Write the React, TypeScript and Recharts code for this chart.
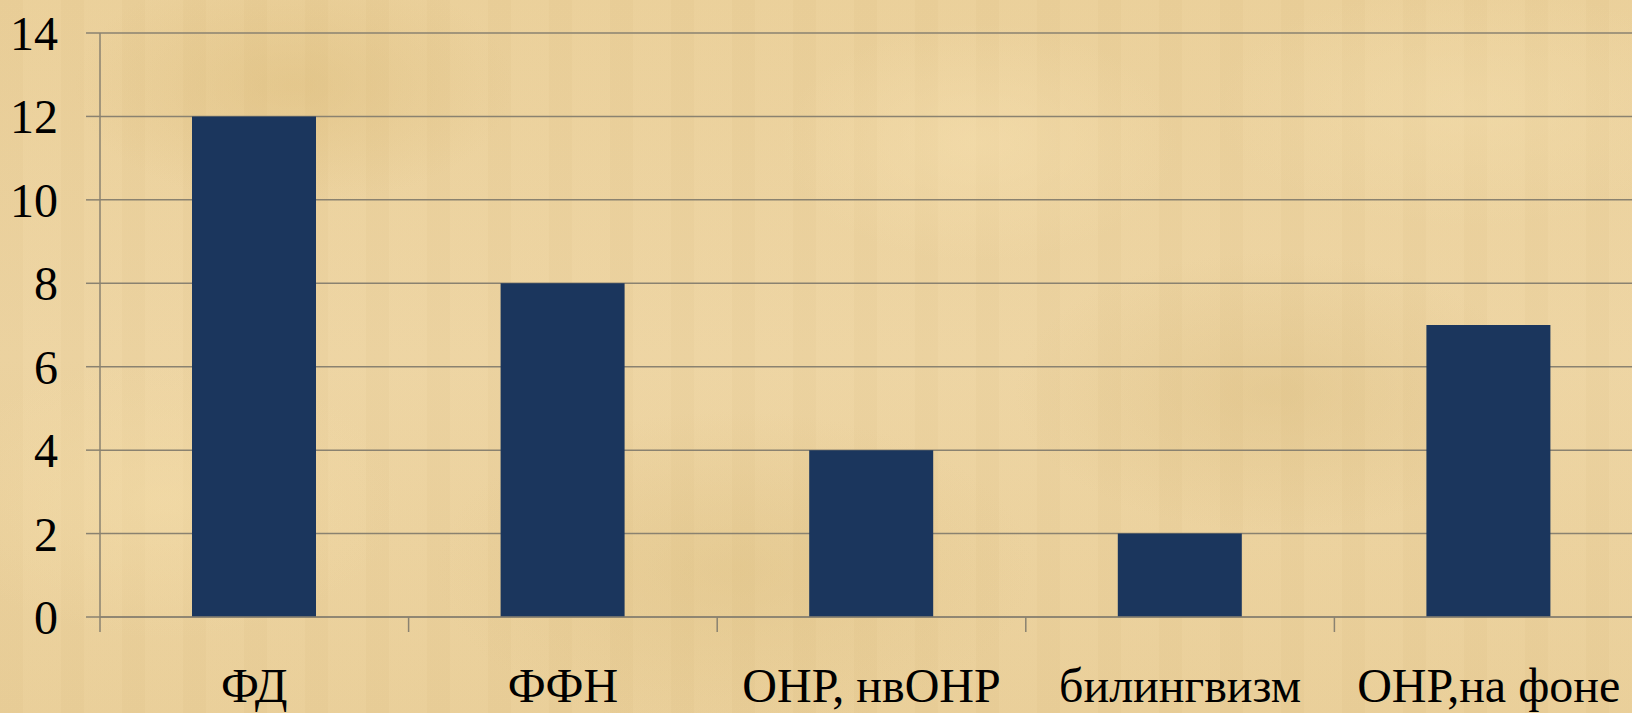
import React from "react";
import { BarChart, Bar, XAxis, YAxis, CartesianGrid } from "recharts";

const categories = ["ФД", "ФФН", "ОНР, нвОНР", "билингвизм", "ОНР,на фоне"];
const values = [12, 8, 4, 2, 7];
const yTicks = [0, 2, 4, 6, 8, 10, 12, 14];

const data = categories.map((name, i) => ({ name, value: values[i] }));

const GRID = "#8a8270";
const FONT = "Liberation Serif, Times New Roman, DejaVu Serif, serif";

const CategoryTick = (props: any) => {
  const { x, y, payload, index, width, visibleTicksCount } = props;
  const half =
    payload && typeof payload.offset === "number" && payload.offset > 0
      ? payload.offset
      : width / (visibleTicksCount || 5) / 2;
  return (
    <g>
      <line x1={x - half} x2={x - half} y1={y} y2={y + 15} stroke={GRID} strokeWidth={1.5} />
      {index === (visibleTicksCount || 5) - 1 ? (
        <line x1={x + half} x2={x + half} y1={y} y2={y + 15} stroke={GRID} strokeWidth={1.5} />
      ) : null}
      <text
        x={x}
        y={y + 85}
        textAnchor="middle"
        fill="#000"
        fontFamily="Liberation Serif"
        style={{ fontFamily: FONT, fontSize: "48px" }}
      >
        {payload.value}
      </text>
    </g>
  );
};

const ValueTick = (props: any) => {
  const { x, y, payload } = props;
  return (
    <text
      x={x}
      y={y + 17}
      textAnchor="end"
      fill="#000"
      fontFamily="Liberation Serif"
      style={{ fontFamily: FONT, fontSize: "48px" }}
    >
      {payload.value}
    </text>
  );
};

const background = [
  "radial-gradient(ellipse 220px 120px at 18% 12%, rgba(214,180,110,0.35), transparent)",
  "radial-gradient(ellipse 260px 140px at 78% 55%, rgba(210,178,112,0.3), transparent)",
  "radial-gradient(ellipse 300px 160px at 45% 80%, rgba(215,185,120,0.3), transparent)",
  "radial-gradient(ellipse 200px 120px at 60% 20%, rgba(248,226,178,0.45), transparent)",
  "radial-gradient(ellipse 240px 140px at 10% 70%, rgba(245,222,170,0.45), transparent)",
  "radial-gradient(ellipse 260px 120px at 90% 15%, rgba(245,224,176,0.4), transparent)",
  "repeating-linear-gradient(90deg, rgba(190,160,100,0.04) 0px, rgba(190,160,100,0.04) 23px, rgba(255,240,200,0.04) 23px, rgba(255,240,200,0.04) 61px)",
  "linear-gradient(180deg, #EACF99 0%, #EDD4A2 50%, #E9CE98 100%)",
].join(", ");

export default function App() {
  return (
    <div
      style={{
        position: "absolute",
        left: 0,
        top: 0,
        width: 1632,
        height: 713,
        overflow: "hidden",
        background,
      }}
    >
      <BarChart
        width={1643}
        height={713}
        data={data}
        margin={{ top: 33, right: 0, left: 0, bottom: 0 }}
      >
        <CartesianGrid horizontal vertical={false} stroke={GRID} strokeWidth={1.5} />
        <XAxis
          dataKey="name"
          interval={0}
          height={96}
          axisLine={{ stroke: GRID, strokeWidth: 1.5 }}
          tickLine={false}
          tickSize={0}
          tickMargin={0}
          tick={<CategoryTick />}
        />
        <YAxis
          width={100}
          domain={[0, 14]}
          ticks={yTicks}
          interval={0}
          axisLine={{ stroke: GRID, strokeWidth: 1.5 }}
          tickLine={{ stroke: GRID, strokeWidth: 1.5 }}
          tickSize={14}
          tickMargin={28}
          tick={<ValueTick />}
        />
        <Bar dataKey="value" fill="#1B365D" barSize={124} isAnimationActive={false} />
      </BarChart>
    </div>
  );
}
